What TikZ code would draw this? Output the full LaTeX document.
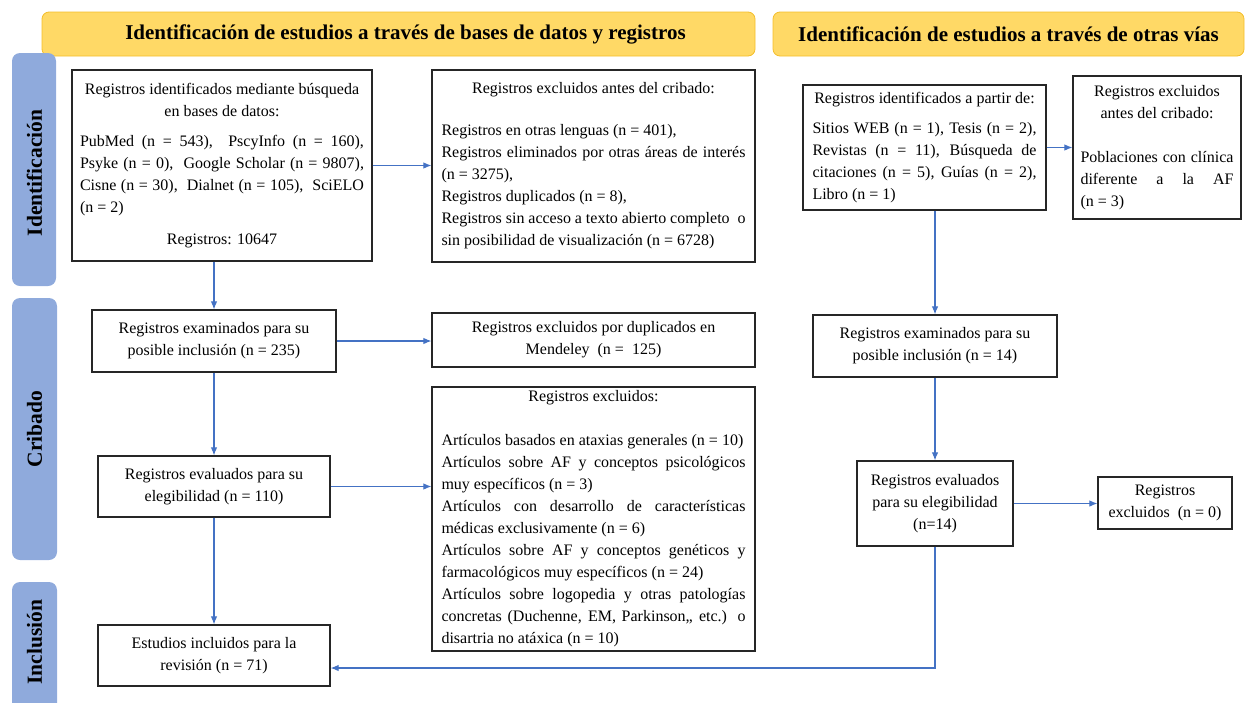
\documentclass[tikz,border=0pt]{standalone}
\usepackage{fontspec}
\setmainfont{Liberation Serif}
\usepackage{tikz}
\usetikzlibrary{arrows,arrows.meta,shapes,positioning}
\definecolor{hdrfill}{HTML}{FFD966}
\definecolor{hdrline}{HTML}{F4BE2A}
\definecolor{barfill}{HTML}{8FAADC}
\definecolor{flowblue}{HTML}{4472C4}
\definecolor{boxline}{HTML}{262626}
\tolerance=9999 \hbadness=10000 \parindent=0pt

\begin{document}
\begin{tikzpicture}[x=1pt,y=-1pt,
  hdr/.style={draw=hdrline,fill=hdrfill,line width=.8pt,rounded corners=7pt,minimum height=44pt,font=\fontsize{21}{24}\selectfont\bfseries},
  sidelabel/.style={rotate=90,font=\fontsize{21.5}{24}\selectfont\bfseries},
  recbox/.style={draw=boxline,line width=1.2pt,inner sep=0pt,align=center,font=\fontsize{16}{22}\selectfont},
  listbox/.style={recbox,align=justify},
  flow/.style={draw=flowblue,line width=1.1pt,-{Latex[length=8pt,width=6.5pt]}}]
\useasboundingbox (0,0) rectangle (1246,702);
\clip (0,0) rectangle (1246,702);
%headers
\node[hdr,minimum width=713pt] (dbhead) at (398.5,34) {\hspace*{14pt}Identificación de estudios a través de bases de datos y registros};
\node[hdr,minimum width=471pt] (otherhead) at (1008.5,34) {Identificación de estudios a través de otras vías};
%side bars
\fill[barfill,rounded corners=8pt] (12,53) rectangle (56,286);
\fill[barfill,rounded corners=8pt] (12,298) rectangle (57,560);
\fill[barfill,rounded corners=8pt] (12,582) rectangle (57,730);
\node[sidelabel] (idlabel) at (34.5,173) {Identificación};
\node[sidelabel] (criblabel) at (34.5,429) {Cribado};
\node[sidelabel] (incllabel) at (34.5,642) {Inclusión};
%databases: identification
\node[listbox,minimum width=300pt,minimum height=191pt,text width=284pt] (dbsearch) at (222,165.5) {{\centering Registros identificados mediante búsqueda\par en bases de datos:\par}\vspace{8pt}
PubMed (n = 543),\ \ PscyInfo (n = 160),\linebreak Psyke (n = 0),\ \ Google Scholar (n = 9807),\linebreak Cisne (n = 30),\ \ Dialnet (n = 105),\ \ SciELO\linebreak (n = 2)\par\vspace{10pt}
{\centering Registros: 10647\par}};
\node[listbox,minimum width=323pt,minimum height=192pt,text width=304pt] (dbexcl) at (593.5,166) {{\centering Registros excluidos antes del cribado:\par}\vspace{20pt}
Registros en otras lenguas (n = 401),\par
Registros eliminados por otras áreas de interés\linebreak (n = 3275),\par
Registros duplicados (n = 8),\par
Registros sin acceso a texto abierto completo\ \ o\linebreak sin posibilidad de visualización (n = 6728)\par};
%databases: screening and inclusion
\node[recbox,minimum width=244pt,minimum height=62pt] (dbscreen) at (214,341) {Registros examinados para su\\ posible inclusión (n = 235)};
\node[recbox,minimum width=323pt,minimum height=54pt] (dbdup) at (593.5,340) {Registros excluidos por duplicados en\\ Mendeley\ \ (n =\ \ 125)};
\node[recbox,minimum width=232pt,minimum height=61pt] (dbelig) at (214,486.5) {Registros evaluados para su\\ elegibilidad (n = 110)};
\node[listbox,minimum width=323pt,minimum height=264pt,text width=304pt] (dbelimexcl) at (593.5,519) {{\centering Registros excluidos:\par}\vspace{22pt}
Artículos basados en ataxias generales (n = 10)\par
Artículos sobre AF y conceptos psicológicos\linebreak muy específicos (n = 3)\par
Artículos con desarrollo de características\linebreak médicas exclusivamente (n = 6)\par
Artículos sobre AF y conceptos genéticos y\linebreak farmacológicos muy específicos (n = 24)\par
Artículos sobre logopedia y otras patologías\linebreak concretas (Duchenne, EM, Parkinson,, etc.) o\linebreak disartria no atáxica (n = 10)\par};
\node[recbox,minimum width=232pt,minimum height=61pt] (dbincl) at (214,655.5) {Estudios incluidos para la\\ revisión (n = 71)};
%other sources
\node[listbox,minimum width=243pt,minimum height=125pt,text width=224pt] (othersrc) at (924.5,147.5) {{\centering Registros identificados a partir de:\par}\vspace{8pt}
Sitios WEB (n = 1), Tesis (n = 2),\linebreak Revistas (n = 11), Búsqueda de\linebreak citaciones (n = 5), Guías (n = 2),\linebreak Libro (n = 1)\par};
\node[listbox,minimum width=168pt,minimum height=143pt,text width=153pt] (otherexcl) at (1157,147.5) {{\centering Registros excluidos\par antes del cribado:\par}\vspace{22pt}
Poblaciones con clínica\linebreak diferente a la AF\linebreak (n = 3)\par};
\node[recbox,minimum width=244pt,minimum height=62pt] (otherscreen) at (935,346) {Registros examinados para su\\ posible inclusión (n = 14)};
\node[recbox,minimum width=156pt,minimum height=85pt] (otherelig) at (935,503.5) {Registros evaluados\\ para su elegibilidad\\ (n=14)};
\node[recbox,minimum width=134pt,minimum height=52pt] (otherelimexcl) at (1165,503) {Registros\\ excluidos\ \ (n = 0)};
%connectors
\draw[flow] (dbsearch.east) -- (dbsearch.east -| dbexcl.west);
\draw[flow] (dbsearch.south -| dbscreen.north) -- (dbscreen.north);
\draw[flow] (dbscreen.east) -- (dbscreen.east -| dbdup.west);
\draw[flow] (dbscreen.south) -- (dbelig.north);
\draw[flow] (dbelig.east) -- (dbelig.east -| dbelimexcl.west);
\draw[flow] (dbelig.south) -- (dbincl.north);
\draw[flow] (othersrc.east) -- (othersrc.east -| otherexcl.west);
\draw[flow] (othersrc.south -| otherscreen.north) -- (otherscreen.north);
\draw[flow] (otherscreen.south) -- (otherelig.north);
\draw[flow] (otherelig.east) -- (otherelig.east -| otherelimexcl.west);
\draw[flow] (otherelig.south) |- ([yshift=-12.5pt]dbincl.east);
\end{tikzpicture}
\end{document}
